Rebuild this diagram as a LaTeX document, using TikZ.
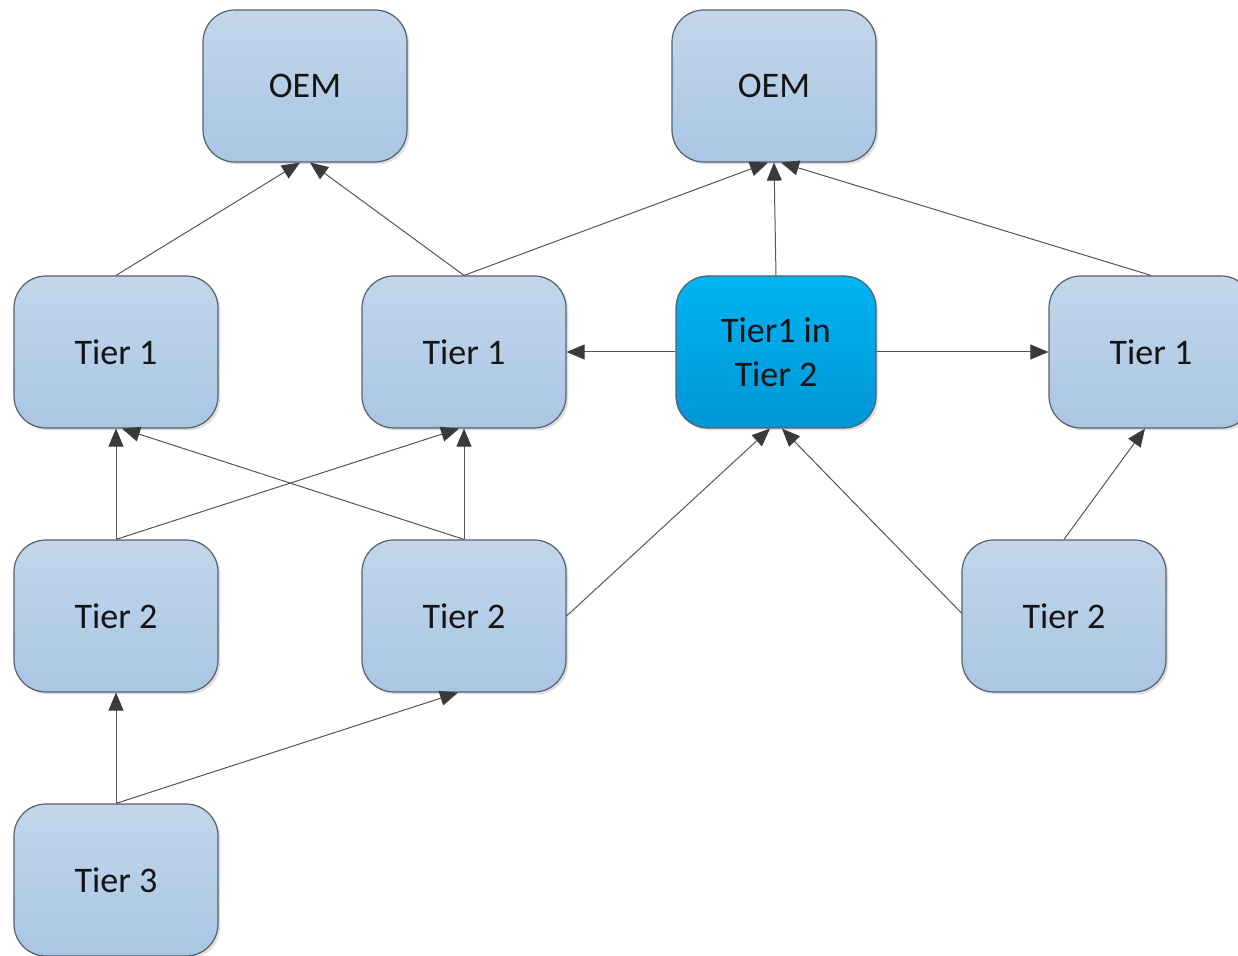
\documentclass[tikz,border=0pt]{standalone}
\usepackage{fontspec}
\setmainfont{Carlito}
\usetikzlibrary{arrows.meta,calc,shadows}
\definecolor{boxtop}{HTML}{C3D6EB}
\definecolor{boxbot}{HTML}{A9C6E3}
\definecolor{hltop}{HTML}{00B4F2}
\definecolor{hlbot}{HTML}{0096D6}
\definecolor{boxline}{HTML}{56606C}
\definecolor{edgeline}{HTML}{555555}
\definecolor{tipcol}{HTML}{3A3A3A}
\tikzset{
  box/.style={draw=boxline, line width=0.6pt, rounded corners=16pt,
    minimum width=102pt, minimum height=76pt, align=center,
    top color=boxtop, bottom color=boxbot, font=\fontsize{18}{22}\selectfont,
    text=black!92, drop shadow={shadow xshift=1.2pt, shadow yshift=-1.2pt, opacity=0.25}},
  hlbox/.style={box, top color=hltop, bottom color=hlbot},
  conn/.style={draw=edgeline, line width=0.5pt, -{Triangle[length=9pt,width=7.5pt,color=tipcol]}}
}
\begin{document}
\begin{tikzpicture}[x=0.5pt,y=-0.5pt]
\useasboundingbox (0,0) rectangle (1238,956);
\node[box] (oem1) at (305,86) {OEM};
\node[box] (oem2) at (774,86) {OEM};
\node[box] (t1a) at (116,352) {Tier 1};
\node[box] (t1b) at (464,352) {Tier 1};
\node[hlbox, minimum width=100pt] (t12) at (776,352) {Tier1 in\\Tier 2};
\node[box] (t1c) at (1151,352) {Tier 1};
\node[box] (t2a) at (116,616) {Tier 2};
\node[box] (t2b) at (464,616) {Tier 2};
\node[box] (t2c) at (1064,616) {Tier 2};
\node[box] (t3) at (116,880) {Tier 3};

\draw[conn] (t1a.north) -- ($(oem1.south)+(-5,0)$);
\draw[conn] (t1b.north) -- ($(oem1.south)+(5,0)$);
\draw[conn] (t1b.north) -- ($(oem2.south)+(-6,0)$);
\draw[conn] (t12.north) -- (oem2.south);
\draw[conn] (t1c.north) -- ($(oem2.south)+(7,0)$);
\draw[conn] (t12.west) -- (t1b.east);
\draw[conn] (t12.east) -- (t1c.west);
\draw[conn] (t2a.north) -- (t1a.south);
\draw[conn] (t2a.north) -- ($(t1b.south)+(-5,0)$);
\draw[conn] (t2b.north) -- ($(t1a.south)+(6,0)$);
\draw[conn] (t2b.north) -- (t1b.south);
\draw[conn] (t2b.east) -- ($(t12.south)+(-6,0)$);
\draw[conn] ($(t2c.west)+(0,-3)$) -- ($(t12.south)+(6,0)$);
\draw[conn] (t2c.north) -- ($(t1c.south)+(-6,0)$);
\draw[conn] (t3.north) -- (t2a.south);
\draw[conn] (t3.north) -- ($(t2b.south)+(-6,0)$);
\end{tikzpicture}
\end{document}
